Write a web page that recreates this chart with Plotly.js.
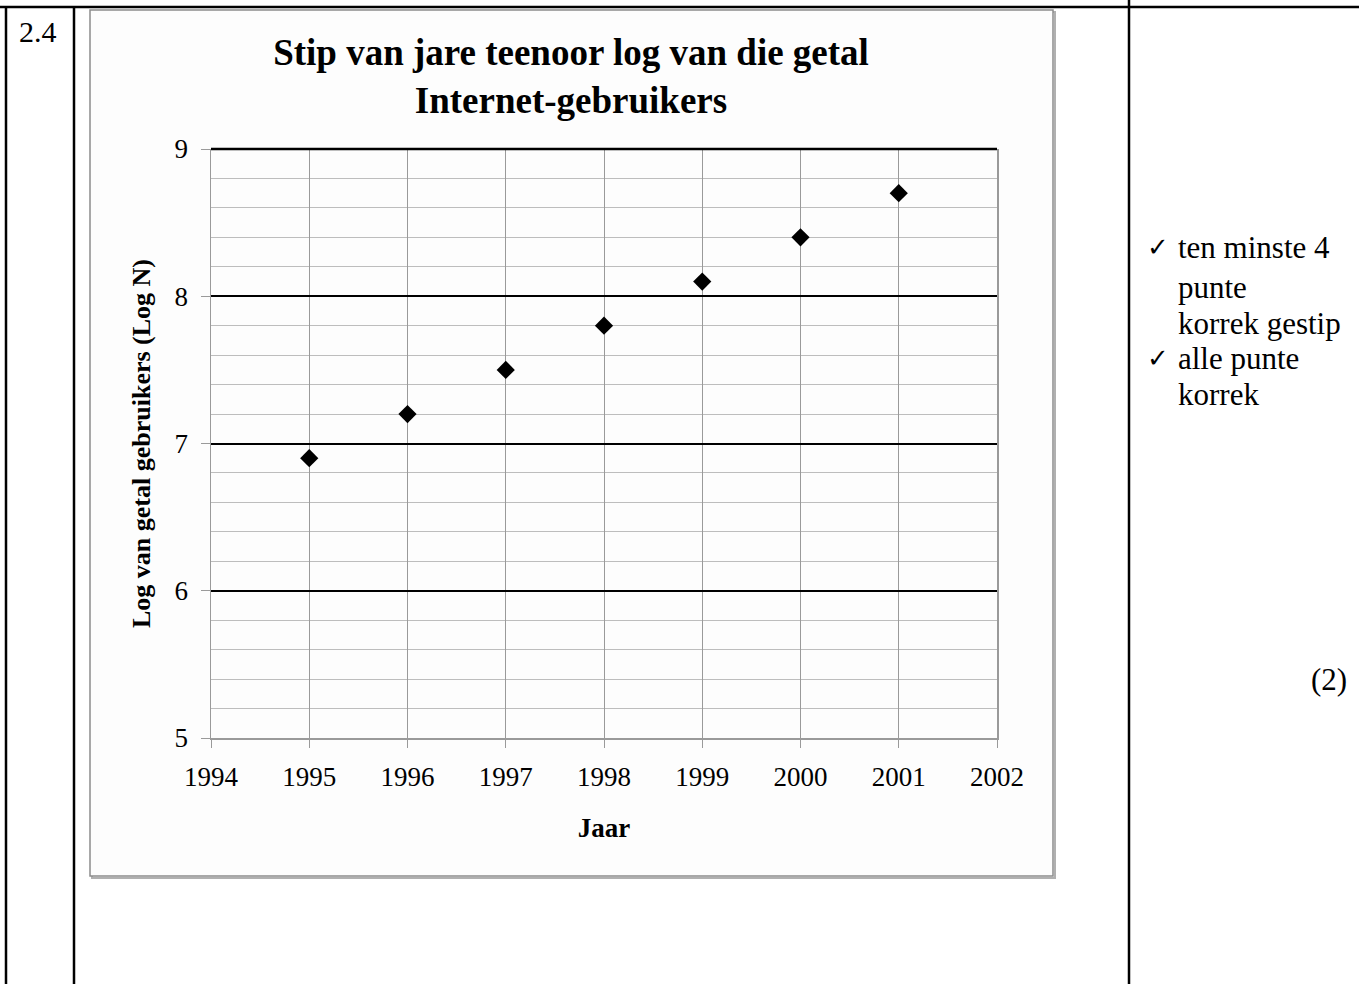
<!DOCTYPE html>
<html>
<head>
<meta charset="utf-8">
<script src="https://cdn.plot.ly/plotly-3.0.1.min.js"></script>
<style>html,body{margin:0;padding:0;background:#fff;}#chart{width:1359px;height:984px;}</style>
</head>
<body>
<div id="chart"></div>
<script>
var years = [1995, 1996, 1997, 1998, 1999, 2000, 2001];
var logN = [6.9, 7.2, 7.5, 7.8, 8.1, 8.4, 8.7];
var xTicks = [1994, 1995, 1996, 1997, 1998, 1999, 2000, 2001, 2002];
var yTicks = [5, 6, 7, 8, 9];
var chartTitle = 'Stip van jare teenoor log van die getal<br>Internet-gebruikers';
var xTitle = 'Jaar';
var yTitle = 'Log van getal gebruikers (Log N)';
var questionNo = '2.4';
var markLines = ['\u2713 ten minste 4', '    punte', '    korrek gestip', '\u2713 alle punte', '    korrek'];
var marks = '(2)';

var W = 1359, H = 984;
function px(x){ return x / W; }
function py(y){ return 1 - y / H; }
var serif = "'Liberation Serif', 'Times New Roman', serif";

var trace = {
  x: years, y: logN, type: 'scatter', mode: 'markers',
  marker: {symbol: 'diamond', size: 14, color: '#000'},
  hoverinfo: 'x+y', showlegend: false
};

var shapes = [
  {type:'rect', xref:'paper', yref:'paper', x0:px(92), x1:px(1055), y0:py(12), y1:py(878), line:{color:'#b0b0b0', width:2}, fillcolor:'rgba(0,0,0,0)', layer:'below'},
  {type:'rect', xref:'paper', yref:'paper', x0:px(90), x1:px(1053), y0:py(10), y1:py(876), line:{color:'#8c8c8c', width:1.5}, fillcolor:'#fdfdfd', layer:'below'},
  {type:'line', xref:'paper', yref:'paper', x0:0, x1:1, y0:py(7), y1:py(7), line:{color:'#000', width:2.5}},
  {type:'line', xref:'paper', yref:'paper', x0:px(6), x1:px(6), y0:py(7), y1:0, line:{color:'#000', width:2.5}},
  {type:'line', xref:'paper', yref:'paper', x0:px(74), x1:px(74), y0:py(7), y1:0, line:{color:'#000', width:2.5}},
  {type:'line', xref:'paper', yref:'paper', x0:px(1129), x1:px(1129), y0:1, y1:0, line:{color:'#000', width:2.5}},
  // top frame of the plot area (black, like the major gridlines)
  {type:'line', xref:'x domain', yref:'y domain', x0:0, x1:1, y0:1, y1:1, line:{color:'#000', width:2.5}}
];

var annotations = [
  {text: questionNo, xref:'paper', yref:'paper', x:px(38), y:py(32), xanchor:'center', yanchor:'middle', showarrow:false, font:{family:serif, size:30, color:'#000'}},
  {text: marks, xref:'paper', yref:'paper', x:px(1349), y:py(679), xanchor:'right', yanchor:'middle', showarrow:false, font:{family:serif, size:31, color:'#000'}}
];
var lineYs = [248, 287, 323, 359, 395];
for (var i = 0; i < markLines.length; i++) {
  var t = markLines[i];
  var isCheck = t.charAt(0) === '\u2713';
  annotations.push({
    text: isCheck ? t.slice(2) : t.trim(), xref:'paper', yref:'paper', x:px(1176), y:py(lineYs[i]),
    xanchor:'left', yanchor:'middle', showarrow:false, font:{family:serif, size:31, color:'#000'}
  });
  if (isCheck) {
    annotations.push({
      text: '\u2713', xref:'paper', yref:'paper', x:px(1158), y:py(lineYs[i] - 1),
      xanchor:'center', yanchor:'middle', showarrow:false, font:{family:'DejaVu Sans', size:26, color:'#000'}
    });
  }
}

var layout = {
  width: W, height: H,
  margin: {l:0, r:0, t:0, b:0},
  paper_bgcolor: '#fff', plot_bgcolor: '#fff',
  title: {text: chartTitle, x: px(571), xanchor:'center', xref:'paper', y: py(65), yref:'container', yanchor:'middle',
          font:{family:serif, size:37, color:'#000', weight:'bold'}},
  xaxis: {
    domain: [px(211), px(997)], range: [1994, 2002], tickvals: xTicks, ticktext: xTicks.map(String),
    showgrid: true, gridcolor: '#9a9a9a', gridwidth: 1, zeroline: false,
    showline: true, linecolor: '#9a9a9a', linewidth: 1.5,
    ticks: 'outside', ticklen: 8, tickcolor: '#9a9a9a', ticklabelstandoff: 6,
    tickfont: {family:serif, size:27, color:'#000'},
    title: {text: xTitle, font:{family:serif, size:27, color:'#000', weight:'bold'}, standoff: 27}
  },
  yaxis: {
    domain: [py(738), py(149)], range: [5, 9], tickvals: yTicks, ticktext: yTicks.map(String),
    showgrid: true, gridcolor: '#000', gridwidth: 2, zeroline: false,
    showline: true, mirror: true, linecolor: '#9a9a9a', linewidth: 1.5,
    ticks: 'outside', ticklen: 9, tickcolor: '#9a9a9a', ticklabelstandoff: 7,
    minor: {dtick: 0.2, tick0: 5, showgrid: true, gridcolor: '#bdbdbd', gridwidth: 1, ticks: ''},
    tickfont: {family:serif, size:27, color:'#000'},
    title: {text: yTitle, font:{family:serif, size:26, color:'#000', weight:'bold'}, standoff: 16}
  },
  shapes: shapes,
  annotations: annotations
};

Plotly.newPlot('chart', [trace], layout, {displayModeBar:false, staticPlot:true});
</script>
</body>
</html>
